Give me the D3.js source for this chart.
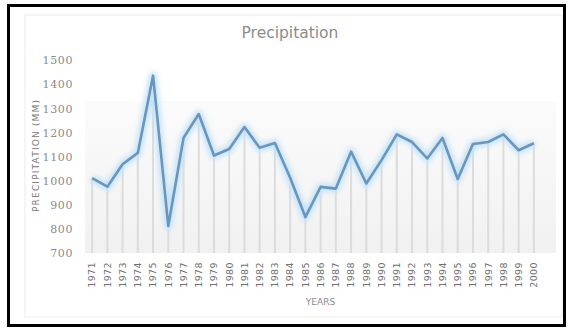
<!DOCTYPE html>
<html>
<head>
<meta charset="utf-8">
<script src="https://cdn.jsdelivr.net/npm/d3@7/dist/d3.min.js"></script>
<style>
  html, body { margin: 0; padding: 0; background: #fff; }
  svg { display: block; }
</style>
</head>
<body>
<svg id="chart" width="569" height="329"></svg>
<script>
// Annual precipitation, 1971–2000 (mm)
const years = [1971, 1972, 1973, 1974, 1975, 1976, 1977, 1978, 1979, 1980,
               1981, 1982, 1983, 1984, 1985, 1986, 1987, 1988, 1989, 1990,
               1991, 1992, 1993, 1994, 1995, 1996, 1997, 1998, 1999, 2000];
const precipitation = [1010, 975, 1068, 1115, 1435, 812, 1177, 1276, 1104, 1131,
                       1222, 1136, 1156, 1012, 849, 974, 967, 1120, 988, 1085,
                       1192, 1160, 1092, 1177, 1007, 1152, 1160, 1192, 1126, 1155];
const yTicks = [700, 800, 900, 1000, 1100, 1200, 1300, 1400, 1500];

const chartTitle = "Precipitation";
const xTitle = "YEARS";
const yTitle = "PRECIPITATION (MM)";

const svg = d3.select("#chart");

// Outer frame and chart-area border
svg.append("rect")
  .attr("x", 25).attr("y", 15).attr("width", 537).attr("height", 302)
  .attr("fill", "none").attr("stroke", "#ececec").attr("stroke-width", 1);
svg.append("rect")
  .attr("x", 8.5).attr("y", 5.5).attr("width", 556).attr("height", 320)
  .attr("fill", "none").attr("stroke", "#000").attr("stroke-width", 3);

const plot = { left: 84.5, right: 541.5, top: 60, bottom: 253 };

const x = d3.scaleBand().domain(years).range([plot.left, plot.right]).padding(0);
const cx = d => x(d) + x.bandwidth() / 2;
const y = d3.scaleLinear().domain([700, 1500]).range([plot.bottom, plot.top]);

// Soft plot-area fill
const defs = svg.append("defs");
const grad = defs.append("linearGradient").attr("id", "plotFill")
  .attr("x1", 0).attr("y1", 0).attr("x2", 0).attr("y2", 1);
grad.append("stop").attr("offset", "0%").attr("stop-color", "#fbfbfb");
grad.append("stop").attr("offset", "100%").attr("stop-color", "#f1f1f1");
const glow = defs.append("filter").attr("id", "glow")
  .attr("x", "-10%").attr("y", "-10%").attr("width", "120%").attr("height", "120%");
glow.append("feGaussianBlur").attr("stdDeviation", 2.5);

svg.append("rect")
  .attr("x", 85).attr("y", y(1330))
  .attr("width", 471).attr("height", plot.bottom - y(1330))
  .attr("fill", "url(#plotFill)");

// Drop lines from each point to the baseline
svg.append("g").selectAll("line")
  .data(years)
  .join("line")
  .attr("x1", d => cx(d)).attr("x2", d => cx(d))
  .attr("y1", (d, i) => y(precipitation[i]))
  .attr("y2", plot.bottom)
  .attr("stroke", "#dcdcdc").attr("stroke-width", 2);

// Line with a light halo
const line = d3.line()
  .x((d, i) => cx(years[i]))
  .y(d => y(d));

svg.append("path")
  .datum(precipitation)
  .attr("d", line)
  .attr("fill", "none")
  .attr("stroke", "#c6e3f6")
  .attr("stroke-width", 8)
  .attr("stroke-linejoin", "round")
  .attr("filter", "url(#glow)");

svg.append("path")
  .datum(precipitation)
  .attr("d", line)
  .attr("fill", "none")
  .attr("stroke", "#6896bf")
  .attr("stroke-width", 2.6)
  .attr("stroke-linejoin", "round");

// Y axis (labels only)
const yAxis = d3.axisLeft(y).tickValues(yTicks).tickFormat(d3.format("d"))
  .tickSize(0).tickPadding(0);
const gy = svg.append("g").attr("transform", `translate(73,0)`).call(yAxis);
gy.select(".domain").remove();
gy.attr("font-family", null).attr("font-size", null);
gy.selectAll("text")
  .style("font-family", "'DejaVu Serif', serif")
  .style("font-size", "11px")
  .style("letter-spacing", "0.6px")
  .attr("fill", "#8a8a8a")
  .attr("dy", "0.35em");

// X axis (rotated year labels)
const xAxis = d3.axisBottom(x).tickSize(0).tickPadding(0);
const gx = svg.append("g").attr("transform", `translate(0,${plot.bottom})`).call(xAxis);
gx.select(".domain").remove();
gx.selectAll("text")
  .style("font-family", "'DejaVu Sans', sans-serif")
  .style("font-size", "9.5px")
  .style("letter-spacing", "0.4px")
  .attr("fill", "#6f6f6f")
  .attr("text-anchor", "end")
  .attr("dy", "0.35em")
  .attr("transform", "translate(0,9) rotate(-90)")
  .attr("x", 0).attr("y", 0);

// Titles
svg.append("text")
  .attr("x", 290).attr("y", 38)
  .attr("text-anchor", "middle")
  .attr("font-family", "DejaVu Sans, sans-serif")
  .attr("font-size", 15.5)
  .attr("fill", "#8c8c8c")
  .text(chartTitle);

svg.append("text")
  .attr("x", (85 + 556) / 2).attr("y", 305)
  .attr("text-anchor", "middle")
  .attr("font-family", "DejaVu Sans, sans-serif")
  .attr("font-size", 9)
  .attr("fill", "#8a8a8a")
  .text(xTitle);

svg.append("text")
  .attr("transform", "translate(39,156) rotate(-90)")
  .attr("text-anchor", "middle")
  .attr("font-family", "DejaVu Sans, sans-serif")
  .attr("font-size", 9)
  .attr("textLength", 112)
  .attr("lengthAdjust", "spacing")
  .attr("fill", "#7a7a7a")
  .text(yTitle);
</script>
</body>
</html>
